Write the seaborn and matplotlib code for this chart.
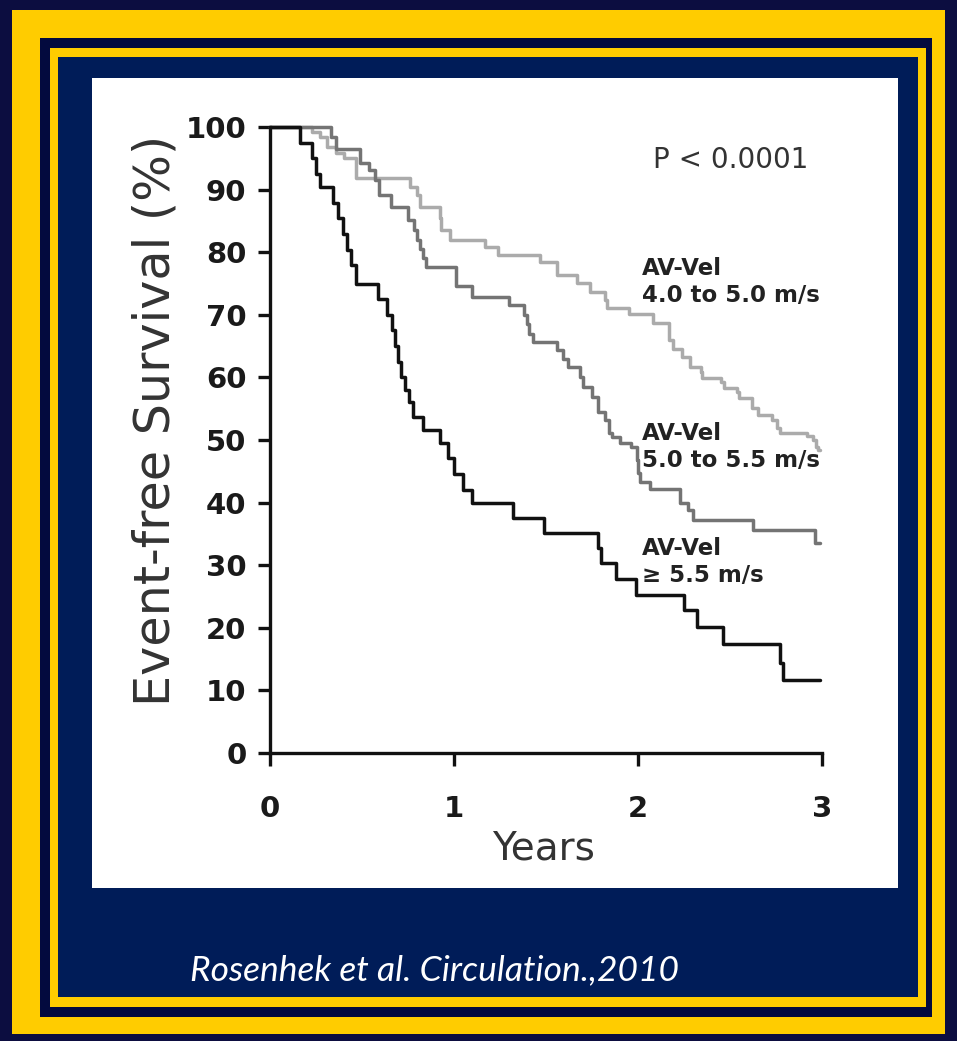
import numpy as np
import pandas as pd
import matplotlib
matplotlib.use("Agg")
import matplotlib.pyplot as plt
from matplotlib.patches import Rectangle
import seaborn as sns

# Kaplan-Meier event-free survival by aortic jet velocity group
groups = ["4.0 to 5.0 m/s", "5.0 to 5.5 m/s", "\u2265 5.5 m/s"]

years_low = [0, 0.23, 0.27, 0.31, 0.36, 0.40, 0.47, 0.76, 0.80, 0.815, 0.925, 0.93,
             0.98, 1.17, 1.24, 1.47, 1.56, 1.67, 1.74, 1.82, 1.83, 1.95, 2.08, 2.17,
             2.19, 2.24, 2.28, 2.34, 2.35, 2.45, 2.47, 2.54, 2.55, 2.62, 2.65, 2.73,
             2.755, 2.77, 2.92, 2.95, 2.97, 2.98, 2.99]
surv_low = [100, 99.2, 98.4, 96.8, 95.8, 95.0, 91.9, 90.4, 89.1, 87.2, 85.5, 83.5,
            82.0, 80.9, 79.6, 78.4, 76.4, 75.1, 73.7, 72.3, 71.1, 70.2, 68.7, 66.0,
            64.6, 63.3, 61.7, 60.9, 59.9, 59.3, 58.3, 57.7, 56.7, 55.1, 54.0, 53.2,
            51.9, 51.1, 50.6, 50.0, 48.9, 48.4, 48.4]

years_mid = [0, 0.33, 0.36, 0.49, 0.54, 0.57, 0.59, 0.66, 0.75, 0.78, 0.80, 0.815,
             0.83, 0.85, 1.01, 1.10, 1.30, 1.38, 1.395, 1.41, 1.43, 1.56, 1.59, 1.62,
             1.685, 1.70, 1.75, 1.78, 1.82, 1.84, 1.86, 1.90, 1.96, 1.995, 2.0, 2.01,
             2.065, 2.23, 2.27, 2.30, 2.625, 2.96, 2.99]
surv_mid = [100, 98.4, 96.5, 94.2, 93.1, 91.5, 89.1, 87.3, 85.1, 83.5, 82.0, 80.5,
            79.0, 77.6, 74.6, 72.9, 71.6, 70.0, 68.5, 67.0, 65.7, 64.4, 63.0, 61.7,
            60.1, 58.5, 56.9, 54.5, 53.2, 51.1, 50.5, 49.5, 48.9, 46.8, 44.7, 43.3,
            42.1, 39.9, 38.8, 37.2, 35.6, 33.5, 33.5]

years_high = [0, 0.163, 0.228, 0.25, 0.27, 0.342, 0.37, 0.397, 0.418, 0.44, 0.467,
              0.587, 0.636, 0.663, 0.68, 0.696, 0.712, 0.734, 0.755, 0.777, 0.83,
              0.924, 0.97, 1.0, 1.05, 1.1, 1.32, 1.49, 1.78, 1.80, 1.88, 1.99, 2.25,
              2.32, 2.46, 2.77, 2.79, 2.99]
surv_high = [100, 97.5, 95.0, 92.5, 90.4, 87.9, 85.4, 82.9, 80.4, 77.9, 75.0,
             72.5, 70.0, 67.5, 65.0, 62.5, 60.0, 58.0, 56.0, 53.7, 51.6,
             49.5, 47.1, 44.5, 42.0, 40.0, 37.6, 35.1, 32.8, 30.4, 27.8, 25.3, 22.8,
             20.1, 17.4, 14.4, 11.7, 11.7]

x_ticks = [0, 1, 2, 3]
y_ticks = list(range(0, 101, 10))

df = pd.concat([
    pd.DataFrame({"Years": years_low, "Survival": surv_low, "group": groups[0]}),
    pd.DataFrame({"Years": years_mid, "Survival": surv_mid, "group": groups[1]}),
    pd.DataFrame({"Years": years_high, "Survival": surv_high, "group": groups[2]}),
], ignore_index=True)

palette = {groups[0]: "#ababab", groups[1]: "#747474", groups[2]: "#111111"}

sns.set_style("white")
plt.rcParams["font.family"] = ["DejaVu Sans"]

W, H = 957, 1041
fig = plt.figure(figsize=(W / 100, H / 100), dpi=100)
fig.patch.set_facecolor("#0c0d40")


def frame_rect(x0, y0, x1, y1, color, z):
    fig.add_artist(Rectangle((x0 / W, 1 - y1 / H), (x1 - x0) / W, (y1 - y0) / H,
                             transform=fig.transFigure, facecolor=color,
                             edgecolor="none", zorder=z))


# slide frame: outer gold band, thin navy gap, inner gold band, navy panel, white card
frame_rect(12, 10, 945, 1034, "#ffcc00", -10)
frame_rect(40, 38, 932, 1017, "#030a3e", -9)
frame_rect(50, 48, 926, 1007, "#ffcc00", -8)
frame_rect(58, 57, 918, 997, "#001c58", -7)
frame_rect(92, 78, 898, 888, "#ffffff", -6)

ax = fig.add_axes([270 / W, 1 - 753 / H, 552 / W, 626 / H])
ax.patch.set_visible(False)

sns.lineplot(data=df, x="Years", y="Survival", hue="group", palette=palette,
             drawstyle="steps-post", estimator=None, sort=False, legend=False,
             linewidth=2.5, ax=ax, clip_on=False)

ax.set_xlim(0, 3)
ax.set_ylim(0, 100)
ax.set_xticks(x_ticks)
ax.set_yticks(y_ticks)
ax.set_xticklabels([str(v) for v in x_ticks])
ax.set_yticklabels([str(v) for v in y_ticks])

for side in ["top", "right"]:
    ax.spines[side].set_visible(False)
for side in ["left", "bottom"]:
    ax.spines[side].set_linewidth(2.4)
    ax.spines[side].set_color("#111111")

ax.tick_params(axis="both", direction="out", length=9, width=2.4, color="#111111",
               labelsize=21, labelcolor="#1a1a1a", left=True, bottom=True)
ax.tick_params(axis="y", pad=8)
ax.tick_params(axis="x", pad=21)
for lab in ax.get_xticklabels() + ax.get_yticklabels():
    lab.set_fontweight("bold")

ax.set_ylabel("Event-free Survival (%)", fontsize=35.5, color="#333333")
ax.yaxis.label.set_verticalalignment("center")
ax.yaxis.set_label_coords(-0.208, 0.532)
ax.set_xlabel("Years", fontsize=28, color="#333333")
ax.xaxis.label.set_verticalalignment("center")
ax.xaxis.set_label_coords(0.495, -0.152)

ax.text(2.08, 94.7, "P < 0.0001", fontsize=20, color="#333333", va="center", ha="left")
label_pos = [(2.022, 75.2), (2.022, 48.9), (2.022, 30.5)]
for g, (lx, ly) in zip(groups, label_pos):
    ax.text(lx, ly, "AV-Vel\n" + g, fontsize=16.5, fontweight="bold", color="#222222",
            va="center", ha="left", linespacing=1.2)

fig.text(190 / W, 1 - 970 / H, "Rosenhek et al. Circulation.,2010", fontsize=25.5,
         family=["Lato", "DejaVu Sans"], style="italic", color="white", va="center",
         ha="left")

fig.savefig("out.png", dpi=100, facecolor=fig.get_facecolor())
